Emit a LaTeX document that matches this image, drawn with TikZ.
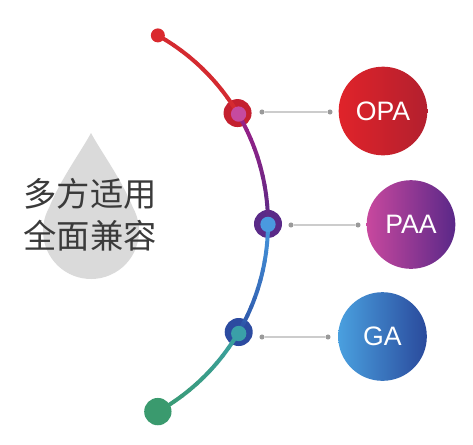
\documentclass[tikz,border=0pt]{standalone}
\usepackage{fontspec}
\setmainfont{Liberation Sans}
\newfontfamily\cjk{Noto Sans CJK SC}
\usetikzlibrary{calc}
\definecolor{cRed}{HTML}{D42A30}
\definecolor{cTop}{HTML}{DA2A2E}
\definecolor{cRingA}{HTML}{C4202F}
\definecolor{cInA}{HTML}{C64A9F}
\definecolor{cPurA}{HTML}{9C1F87}
\definecolor{cPurB}{HTML}{5E2A86}
\definecolor{cRingB}{HTML}{5A2A88}
\definecolor{cInB}{HTML}{4A9ADF}
\definecolor{cBluA}{HTML}{4596DC}
\definecolor{cBluB}{HTML}{2E56A9}
\definecolor{cRingC}{HTML}{2C4BA0}
\definecolor{cInC}{HTML}{3AA0A8}
\definecolor{cTeaA}{HTML}{3AA0A0}
\definecolor{cTeaB}{HTML}{3A9A72}
\definecolor{cBot}{HTML}{3A9A6E}
\definecolor{cDrop}{HTML}{DADADA}
\definecolor{cTxt}{HTML}{3A3A3A}
\definecolor{cLink}{HTML}{CCCCCC}
\definecolor{cDot}{HTML}{9A9A9A}
\definecolor{oA}{HTML}{E0232A}
\definecolor{oB}{HTML}{B3202E}
\definecolor{pA}{HTML}{C8489E}
\definecolor{pM}{HTML}{911B83}
\definecolor{pB}{HTML}{5A2888}
\definecolor{gA}{HTML}{4AA0DF}
\definecolor{gB}{HTML}{2A4A9C}
\begin{document}
\begin{tikzpicture}[x=0.75pt,y=-0.75pt,
  ringout/.style={circle,inner sep=0pt,minimum size=21pt},
  ringin/.style={circle,inner sep=0pt,minimum size=11.5pt},
  linkdot/.style={circle,fill=cDot,inner sep=0pt,minimum size=3.8pt},
  link/.style={draw=cLink,line width=0.8pt},
  bigball/.style={circle,inner sep=0pt,minimum size=66.5pt,text=white,font=\fontsize{20}{24}\selectfont},
  cjktext/.style={text=cTxt,font=\cjk\fontsize{25}{30}\selectfont,inner sep=0pt}]
\useasboundingbox (0,0) rectangle (473,444);
% droplet
\fill[cDrop] (91,133) .. controls (100,150) and (122,180) .. (132.9,207.5)
  arc[start angle=-29.3, end angle=209.3, radius=48]
  .. controls (60,180) and (82,150) .. (91,133) -- cycle;
% arc geometry
\coordinate (C) at (52.3,223.5);
\def\R{215.7}
\coordinate (top) at ($(C)+(-60.7:\R)$);
\coordinate (r1) at ($(C)+(-30.8:\R)$);
\coordinate (r2) at ($(C)+(0.1:\R)$);
\coordinate (r3) at ($(C)+(30.2:\R)$);
\coordinate (bot) at ($(C)+(60.7:\R)$);
% outer rings
\node[ringout,fill=cRingA] (o1) at (r1) {};
\node[ringout,fill=cRingB] (o2) at (r2) {};
\node[ringout,fill=cRingC] (o3) at (r3) {};
% gradient arc segments
\newcommand{\gradarc}[4]{%
  \foreach \i in {0,...,11}{%
    \pgfmathsetmacro\aa{#1+(#2-#1)*\i/12}%
    \pgfmathsetmacro\bb{#1+(#2-#1)*(\i+1)/12}%
    \pgfmathtruncatemacro\pc{100*\i/11}%
    \draw[line width=3pt,line cap=round,color=#4!\pc!#3] ($(C)+(\aa:\R)$) arc[start angle=\aa,end angle=\bb,radius=\R];
  }}
\gradarc{-60.7}{-30.8}{cRed}{cRed}
\gradarc{-30.8}{0.1}{cPurA}{cPurB}
\gradarc{0.1}{30.2}{cBluA}{cBluB}
\gradarc{30.2}{60.7}{cTeaA}{cTeaB}
% end dots
\node[circle,fill=cTop,inner sep=0pt,minimum size=10.5pt] (td) at (top) {};
\node[circle,fill=cBot,inner sep=0pt,minimum size=20.5pt] (bd) at (bot) {};
% inner rings
\node[ringin,fill=cInA] (i1) at ($(r1)+(1,1)$) {};
\node[ringin,fill=cInB] (i2) at ($(r2)+(0,0.5)$) {};
\node[ringin,fill=cInC] (i3) at ($(r3)+(0,1.5)$) {};
% balls
\node[bigball,left color=oA,right color=oB] (opa) at (383,111) {OPA};
\node[bigball,left color=pA,middle color=pM,right color=pB] (paa) at (411,224.5) {PAA};
\node[bigball,left color=gA,right color=gB] (ga) at (382.5,336.5) {GA};
% connectors
\node[linkdot] (a1) at (262,112) {};
\node[linkdot] (b1) at (330,112) {};
\node[linkdot] (a2) at (291,225) {};
\node[linkdot] (b2) at (358,225) {};
\node[linkdot] (a3) at (262,337) {};
\node[linkdot] (b3) at (328,337) {};
\begin{scope}[on background layer/.style={}]
\draw[link] (a1) -- (b1);
\draw[link] (a2) -- (b2);
\draw[link] (a3) -- (b3);
\end{scope}
% texts
\node[cjktext] (t1) at (90,194) {多方适用};
\node[cjktext] (t2) at (90,236) {全面兼容};
\end{tikzpicture}
\end{document}
